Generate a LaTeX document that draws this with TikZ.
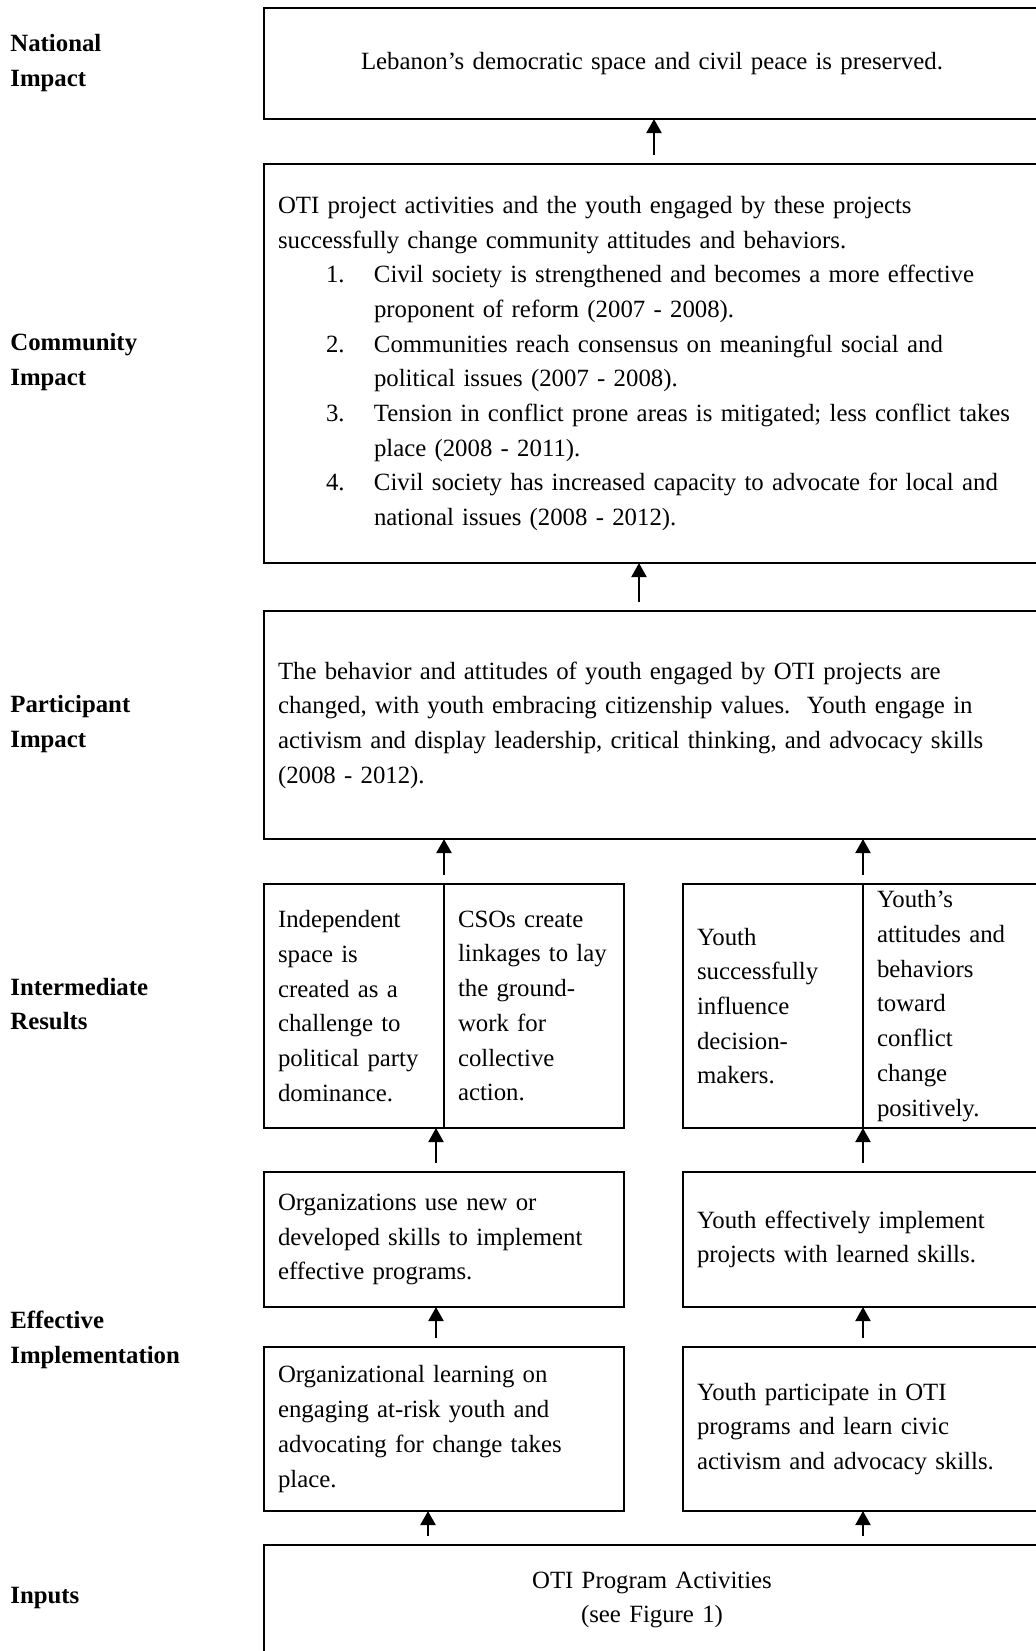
\documentclass[tikz,border=0pt]{standalone}
\usepackage{fontspec}
\setmainfont{Liberation Serif}
\usetikzlibrary{positioning,arrows.meta}

\newcommand{\lnum}[1]{\hspace*{24pt}\makebox[24pt][l]{#1}}
\newcommand{\lcont}{\hspace*{48pt}}

\begin{document}
\begin{tikzpicture}[x=0.5pt,y=-0.5pt,
    box/.style={draw,line width=1pt,outer sep=0pt,inner ysep=0pt,inner xsep=7pt,
      anchor=north west,align=left,font=\fontsize{12.4}{17.35}\selectfont},
    wide/.style={box,minimum width=388pt,text width=374pt},
    half/.style={box,minimum width=180pt,text width=166pt},
    cell/.style={box,minimum width=90pt,text width=76pt,minimum height=122pt},
    lbl/.style={anchor=west,align=left,inner sep=0pt,font=\fontsize{12.4}{17.35}\selectfont\bfseries},
    arr/.style={-{Triangle[width=7.5pt,length=7pt]},line width=1pt,shorten <=4.5pt}]
    \useasboundingbox (0,0) rectangle (1036,1651);
    \clip (0,0) rectangle (1036,1651);

    % levels
    \node[lbl] (lnat) at (10,63) {National\\Impact};
    \node[lbl] (lcomm) at (10,362) {Community\\Impact};
    \node[lbl] (lpart) at (10,724) {Participant\\Impact};
    \node[lbl] (lir) at (10,1004) {Intermediate\\Results};
    \node[lbl] (leff) at (10,1340) {Effective\\Implementation};
    \node[lbl] (linp) at (10,1598) {Inputs};

    % boxes
    \node[wide,minimum height=55.5pt,align=center] (nat) at (264,8)
      {Lebanon's democratic space and civil peace is preserved.};
    \node[wide,minimum height=199.5pt] (comm) at (264,164)
      {OTI project activities and the youth engaged by these projects\\
       successfully change community attitudes and behaviors.\\
       \lnum{1.}Civil society is strengthened and becomes a more effective\\
       \lcont proponent of reform (2007 - 2008).\\
       \lnum{2.}Communities reach consensus on meaningful social and\\
       \lcont political issues (2007 - 2008).\\
       \lnum{3.}Tension in conflict prone areas is mitigated; less conflict takes\\
       \lcont place (2008 - 2011).\\
       \lnum{4.}Civil society has increased capacity to advocate for local and\\
       \lcont national issues (2008 - 2012).};
    \node[wide,minimum height=114pt] (part) at (264,611)
      {The behavior and attitudes of youth engaged by OTI projects are\\
       changed, with youth embracing citizenship values.\ \ Youth engage in\\
       activism and display leadership, critical thinking, and advocacy skills\\
       (2008 - 2012).};

    \node[cell] (irA1) at (264,884)
      {Independent\\space is\\created as a\\challenge to\\political party\\dominance.};
    \node[cell,right=0pt of irA1] (irA2)
      {CSOs create\\\mbox{linkages to lay}\\the ground-\\work for\\collective\\action.};
    \node[cell] (irB1) at (683,884)
      {Youth\\successfully\\influence\\decision-\\makers.};
    \node[cell,right=0pt of irB1] (irB2)
      {Youth's\\attitudes and\\behaviors\\toward\\conflict\\change\\positively.};

    \node[half,minimum height=67.5pt] (effA) at (264,1172)
      {Organizations use new or\\developed skills to implement\\effective programs.};
    \node[half,minimum height=67.5pt] (effB) at (683,1172)
      {Youth effectively implement\\projects with learned skills.};
    \node[half,minimum height=82pt] (lrnA) at (264,1347)
      {Organizational learning on\\engaging at-risk youth and\\advocating for change takes\\place.};
    \node[half,minimum height=82pt] (lrnB) at (683,1347)
      {Youth participate in OTI\\programs and learn civic\\activism and advocacy skills.};

    \node[wide,minimum height=55pt,align=center] (inp) at (264,1545)
      {OTI Program Activities\\(see Figure 1)};

    % arrows
    \draw[arr] ([xshift=195pt]comm.north west) -- ([xshift=195pt]nat.south west);
    \draw[arr] ([xshift=187.5pt]part.north west) -- ([xshift=187.5pt]comm.south west);
    \draw[arr] (irA2.north west) -- (irA2.north west |- part.south);
    \draw[arr] (irB2.north west) -- (irB2.north west |- part.south);
    \draw[arr] ([xshift=86pt]effA.north west) -- ([xshift=86pt]irA1.south west);
    \draw[arr] ([xshift=90pt]effB.north west) -- (irB2.south west);
    \draw[arr] ([xshift=86pt]lrnA.north west) -- ([xshift=86pt]effA.south west);
    \draw[arr] ([xshift=90pt]lrnB.north west) -- ([xshift=90pt]effB.south west);
    \draw[arr] ([xshift=82pt]inp.north west) -- ([xshift=82pt]lrnA.south west);
    \draw[arr] ([xshift=299.5pt]inp.north west) -- ([xshift=90pt]lrnB.south west);
\end{tikzpicture}
\end{document}
